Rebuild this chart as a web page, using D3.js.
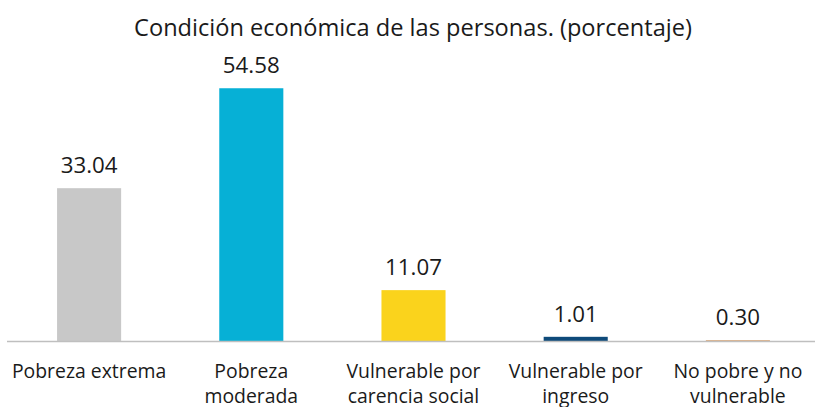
<!DOCTYPE html>
<html>
<head>
<meta charset="utf-8">
<script src="https://cdn.jsdelivr.net/npm/d3@7"></script>
<style>
  html, body { margin: 0; padding: 0; background: #fff; }
  svg { display: block; }
</style>
</head>
<body>
<svg id="chart" width="815" height="407"></svg>
<script>
const categories = [["Pobreza extrema"], ["Pobreza", "moderada"], ["Vulnerable por", "carencia social"], ["Vulnerable por", "ingreso"], ["No pobre y no", "vulnerable"]];
const values = [33.04, 54.58, 11.07, 1.01, 0.30];
const valueLabels = ["33.04", "54.58", "11.07", "1.01", "0.30"];
const colors = ["#c8c8c8", "#06b0d6", "#fad31c", "#0e4a7a", "#ddaa7c"];
const title = "Condición económica de las personas. (porcentaje)";

const svg = d3.select("#chart");
const baseY = 341.5;

const x = d3.scaleBand()
  .domain(d3.range(values.length))
  .range([8, 819])
  .paddingInner(0.605)
  .paddingOuter(0.3025);

const y = d3.scaleLinear().domain([0, 60]).range([baseY, baseY - 60 * 4.64]);

svg.append("text")
  .attr("x", 413).attr("y", 36)
  .attr("text-anchor", "middle")
  .attr("font-family", "Open Sans")
  .attr("font-size", 23.6)
  .attr("fill", "#1a1a1a")
  .text(title);

svg.selectAll("rect.bar").data(values).enter().append("rect")
  .attr("class", "bar")
  .attr("x", (d, i) => x(i))
  .attr("width", x.bandwidth())
  .attr("y", d => y(d))
  .attr("height", d => baseY - y(d))
  .attr("fill", (d, i) => colors[i]);

svg.append("line")
  .attr("x1", 7).attr("x2", 815)
  .attr("y1", baseY).attr("y2", baseY)
  .attr("stroke", "#bfbfbf").attr("stroke-width", 1.5);

svg.selectAll("text.val").data(values).enter().append("text")
  .attr("class", "val")
  .attr("x", (d, i) => x(i) + x.bandwidth() / 2)
  .attr("y", d => y(d) - 15)
  .attr("text-anchor", "middle")
  .attr("font-family", "Open Sans")
  .attr("font-size", 22.3)
  .attr("fill", "#1a1a1a")
  .text((d, i) => valueLabels[i]);

const cat = svg.selectAll("text.cat").data(categories).enter().append("text")
  .attr("class", "cat")
  .attr("x", (d, i) => x(i) + x.bandwidth() / 2)
  .attr("y", 378)
  .attr("text-anchor", "middle")
  .attr("font-family", "Open Sans")
  .attr("font-size", 19.4)
  .attr("fill", "#1a1a1a");
cat.each(function(lines) {
  const t = d3.select(this);
  lines.forEach((ln, k) => {
    t.append("tspan")
      .attr("x", t.attr("x"))
      .attr("dy", k === 0 ? 0 : 25)
      .text(ln);
  });
});
</script>
</body>
</html>
